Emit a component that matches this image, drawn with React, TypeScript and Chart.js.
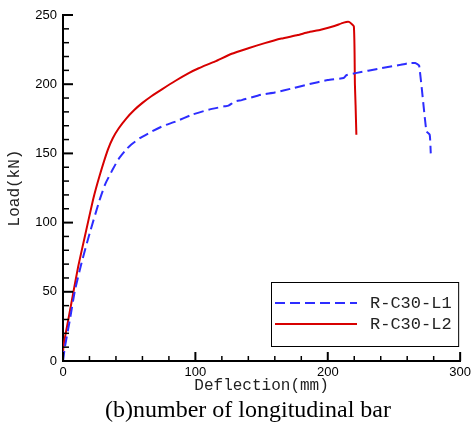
import { useEffect, useRef } from 'react';
import { Chart, registerables } from 'chart.js';

Chart.register(...registerables);

// Series names
const seriesNames = ['R-C30-L1', 'R-C30-L2'];

// R-C30-L1 (blue, dashed)
const l1Deflection = [0, 1.5, 5.2, 9, 14, 20.2, 27.7, 32, 37.6, 42, 47.6, 51.4, 58, 67.5, 76, 85, 97.5, 110, 122, 125, 130, 135, 149.6, 160, 174.5, 185, 200, 212, 214, 221, 240, 255, 262, 266, 269, 274.5, 277, 277.8];
const l1Load = [0, 10.5, 29.8, 51, 70.8, 92.5, 116.5, 128, 138.5, 146, 152.7, 156.3, 161, 166, 170, 173, 178, 181.6, 184, 184.5, 187.5, 188.5, 192.4, 194, 197.3, 199.8, 203, 204.5, 206.5, 208, 211.5, 214, 215.3, 215.3, 213.5, 166, 163.5, 150];

// R-C30-L2 (red, solid)
const l2Deflection = [0, 0.3, 4, 7.7, 11.5, 16.5, 22.7, 27.7, 33.9, 37.6, 42, 47.6, 54, 60, 67, 75, 85, 95, 102.5, 115, 127.4, 140, 152.4, 165, 177.3, 185, 194.7, 205, 212, 216, 219.7, 220.5, 221, 221.6];
const l2Load = [0, 10.5, 29.8, 49, 68.4, 90, 116.5, 134, 152.7, 161, 168, 175, 181.5, 186.5, 191.5, 196.5, 202.5, 208, 211.5, 216.5, 222, 226, 229.7, 233, 235.5, 237.5, 239.4, 242, 244.5, 245, 241.8, 200, 185, 163.5];

// Axis ranges / ticks
const xTicks = [0, 100, 200, 300];
const yTicks = [0, 50, 100, 150, 200, 250];
const xMinorStep = 20;
const yMinorStep = 10;

const xTitle = 'Deflection(mm)';
const yTitle = 'Load(kN)';
const caption = '(b)number of longitudinal bar';

const BLUE = 'rgb(45,45,255)';
const RED = 'rgb(215,0,0)';

const innerTicks = {
  id: 'innerTicks',
  afterDatasetsDraw(chart: any) {
    const { ctx } = chart;
    const xs = chart.scales.x;
    const ys = chart.scales.y;
    const area = chart.chartArea;
    ctx.save();
    ctx.strokeStyle = '#000';
    const xMin = xTicks[0], xMax = xTicks[xTicks.length - 1];
    for (let v = xMin; v <= xMax + 1e-6; v += xMinorStep) {
      const major = xTicks.includes(v);
      const px = xs.getPixelForValue(v);
      ctx.lineWidth = major ? 2 : 1.5;
      ctx.beginPath();
      ctx.moveTo(px, area.bottom);
      ctx.lineTo(px, area.bottom - (major ? 9 : 5));
      ctx.stroke();
    }
    const yMin = yTicks[0], yMax = yTicks[yTicks.length - 1];
    for (let v = yMin; v <= yMax + 1e-6; v += yMinorStep) {
      const major = yTicks.includes(v);
      const py = ys.getPixelForValue(v);
      ctx.lineWidth = major ? 2 : 1.5;
      ctx.beginPath();
      ctx.moveTo(area.left, py);
      ctx.lineTo(area.left + (major ? 10 : 6), py);
      ctx.stroke();
    }
    ctx.restore();
  },
};

const boxLegend = {
  id: 'boxLegend',
  afterDraw(chart: any) {
    const { ctx } = chart;
    const area = chart.chartArea;
    const bx = 271, by = 282;
    const bw = area.right - 2 - bx, bh = 64;
    ctx.save();
    ctx.fillStyle = '#fff';
    ctx.fillRect(bx, by, bw, bh);
    ctx.strokeStyle = '#000';
    ctx.lineWidth = 1;
    ctx.strokeRect(bx + 0.5, by + 0.5, bw, bh);
    chart.data.datasets.forEach((ds: any, i: number) => {
      const ly = by + 21 + i * 21;
      ctx.strokeStyle = ds.borderColor;
      ctx.lineWidth = 2;
      ctx.setLineDash(ds.borderDash || []);
      ctx.beginPath();
      ctx.moveTo(bx + 4, ly);
      ctx.lineTo(bx + 86, ly);
      ctx.stroke();
      ctx.setLineDash([]);
      ctx.fillStyle = '#222';
      ctx.font = '17px "Liberation Mono", monospace';
      ctx.textAlign = 'left';
      ctx.textBaseline = 'middle';
      ctx.fillText(ds.label, bx + 99, ly);
    });
    ctx.restore();
  },
};

const captionPlugin = {
  id: 'captionPlugin',
  afterDraw(chart: any) {
    const { ctx } = chart;
    ctx.save();
    ctx.fillStyle = '#000';
    ctx.font = '24px "Liberation Serif", serif';
    ctx.textAlign = 'center';
    ctx.textBaseline = 'alphabetic';
    ctx.fillText(caption, 248, 416.5);
    ctx.restore();
  },
};

export default function App() {
  const canvasRef = useRef<HTMLCanvasElement | null>(null);

  useEffect(() => {
    const canvas = canvasRef.current;
    if (!canvas) return;
    const toPts = (xs: number[], ys: number[]) => xs.map((x, i) => ({ x, y: ys[i] }));
    const chart = new Chart(canvas, {
      type: 'line',
      data: {
        datasets: [
          {
            label: seriesNames[0],
            data: toPts(l1Deflection, l1Load),
            borderColor: BLUE,
            borderWidth: 2,
            borderDash: [10, 5],
            pointRadius: 0,
            tension: 0.15,
            fill: false,
          },
          {
            label: seriesNames[1],
            data: toPts(l2Deflection, l2Load),
            borderColor: RED,
            borderWidth: 2,
            pointRadius: 0,
            tension: 0.15,
            fill: false,
          },
        ],
      },
      options: {
        responsive: false,
        animation: false,
        events: [],
        layout: { padding: { top: 15, right: 11, left: 0, bottom: 0 } },
        plugins: {
          legend: { display: false },
          tooltip: { enabled: false },
        },
        scales: {
          x: {
            type: 'linear',
            min: xTicks[0],
            max: xTicks[xTicks.length - 1],
            afterBuildTicks: (s: any) => {
              s.ticks = xTicks.map((v) => ({ value: v }));
            },
            afterFit: (s: any) => {
              s.height = 62;
            },
            grid: { display: false, drawTicks: false },
            border: { display: true, color: '#000', width: 2 },
            ticks: {
              color: '#000',
              font: { family: '"Liberation Sans", Arial, sans-serif', size: 13 },
              padding: 4,
              maxRotation: 0,
            },
            title: {
              display: true,
              text: xTitle,
              color: '#222',
              font: { family: '"Liberation Mono", monospace', size: 16, weight: 'normal' },
              padding: { top: 0, bottom: 28 },
            },
          },
          y: {
            type: 'linear',
            min: yTicks[0],
            max: yTicks[yTicks.length - 1],
            afterBuildTicks: (s: any) => {
              s.ticks = yTicks.map((v) => ({ value: v }));
            },
            afterFit: (s: any) => {
              s.width = 63;
            },
            grid: { display: false, drawTicks: false },
            border: { display: true, color: '#000', width: 2 },
            ticks: {
              color: '#000',
              font: { family: '"Liberation Sans", Arial, sans-serif', size: 13 },
              padding: 6,
            },
            title: {
              display: true,
              text: yTitle,
              color: '#222',
              font: { family: '"Liberation Mono", monospace', size: 16, weight: 'normal' },
              padding: { top: 5, bottom: 0 },
            },
          },
        },
      },
      plugins: [innerTicks, boxLegend, captionPlugin],
    });
    return () => chart.destroy();
  }, []);

  return (
    <div style={{ position: 'fixed', left: 0, top: 0, width: 475, height: 423, background: '#fff' }}>
      <canvas ref={canvasRef} width={475} height={423} style={{ display: 'block' }} />
    </div>
  );
}
